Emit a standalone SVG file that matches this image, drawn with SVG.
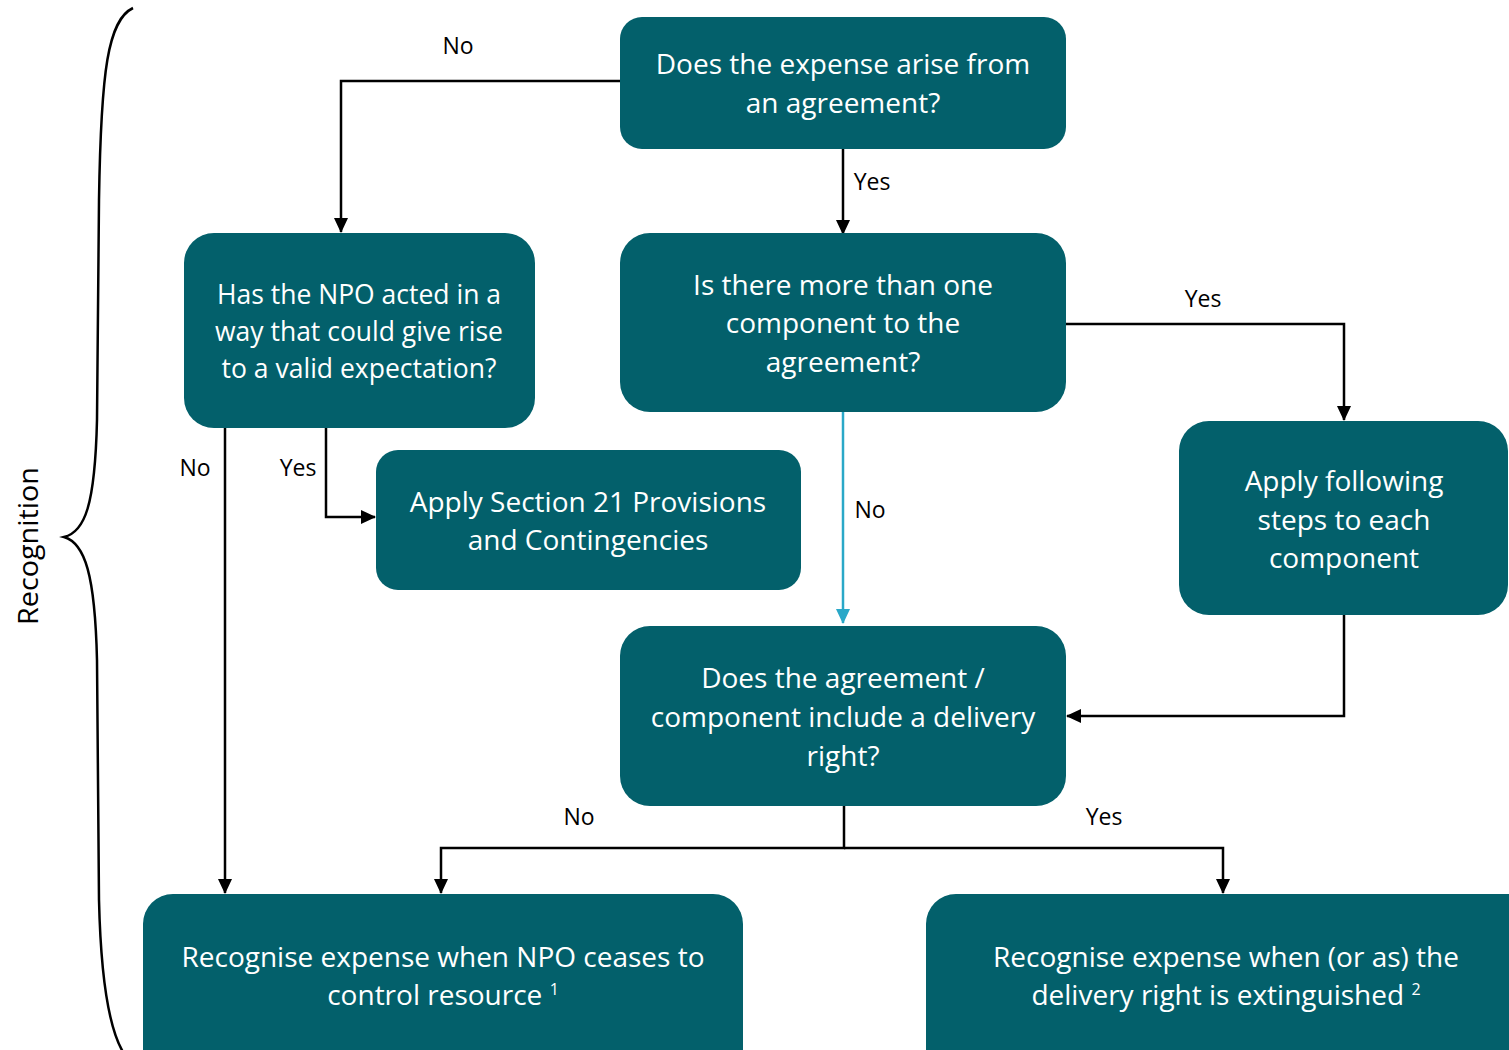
<svg xmlns="http://www.w3.org/2000/svg" width="1509" height="1050" viewBox="0 0 1509 1050">
<style>
.box{fill:#03606B;}
.t{font-family:"Open Sans","Liberation Sans",sans-serif;font-size:28px;fill:#ffffff;text-anchor:middle;}
.t2{font-family:"Open Sans","Liberation Sans",sans-serif;font-size:26.5px;fill:#ffffff;text-anchor:middle;}
.lbl{font-family:"Open Sans","Liberation Sans",sans-serif;font-size:23px;fill:#000000;text-anchor:middle;}
.c{fill:none;stroke:#000;stroke-width:2.5;}
</style>
<defs>
<marker id="ah" markerWidth="16" markerHeight="16" refX="14" refY="7" orient="auto" markerUnits="userSpaceOnUse" viewBox="0 0 16 14">
<path d="M0,0 L15,7 L0,14 Z" fill="#000"/>
</marker>
<marker id="ahc" markerWidth="16" markerHeight="16" refX="14" refY="7" orient="auto" markerUnits="userSpaceOnUse" viewBox="0 0 16 14">
<path d="M0,0 L15,7 L0,14 Z" fill="#2AA8C8"/>
</marker>
</defs>
<rect width="1509" height="1050" fill="#fff"/>
<g id="brace">
<path d="M133,8 C108,20 101,70 99,200 L97,420 C95,505 85,532 64,537 C85,543 95,575 97,660 L99,900 C101,985 110,1030 123,1052" fill="none" stroke="#000" stroke-width="2.5"/>
<text transform="translate(38,546) rotate(-90)" font-family="'Open Sans','Liberation Sans',sans-serif" font-size="27" text-anchor="middle" textLength="158" lengthAdjust="spacingAndGlyphs">Recognition</text>
</g>
<g id="connectors">
<polyline class="c" points="620,81 341,81 341,232" marker-end="url(#ah)"/>
<text class="lbl" x="458" y="54">No</text>
<polyline class="c" points="843,149 843,234" marker-end="url(#ah)"/>
<text class="lbl" x="872" y="190">Yes</text>
<polyline class="c" points="1066,324 1344,324 1344,420" marker-end="url(#ah)"/>
<text class="lbl" x="1203" y="307">Yes</text>
<polyline points="843,412 843,623" fill="none" stroke="#2AA8C8" stroke-width="2.5" marker-end="url(#ahc)"/>
<text class="lbl" x="870" y="518">No</text>
<polyline class="c" points="225,428 225,893" marker-end="url(#ah)"/>
<text class="lbl" x="195" y="476">No</text>
<polyline class="c" points="277,426 326,426 326,517 375,517" marker-end="url(#ah)"/>
<text class="lbl" x="298" y="476">Yes</text>
<polyline class="c" points="1344,615 1344,716 1067,716" marker-end="url(#ah)"/>
<polyline class="c" points="844,803 844,848 441,848 441,893" marker-end="url(#ah)"/>
<polyline class="c" points="844,848 1223,848 1223,893" marker-end="url(#ah)"/>
<text class="lbl" x="579" y="825">No</text>
<text class="lbl" x="1104" y="825">Yes</text>
</g>
<g id="n1">
<rect class="box" x="620" y="17" width="446" height="132" rx="22"/>
<text class="t" x="843" y="74">Does the expense arise from</text>
<text class="t" x="843" y="113">an agreement?</text>
</g>
<g id="n2">
<rect class="box" x="184" y="233" width="351" height="195" rx="30"/>
<text class="t2" x="359" y="304">Has the NPO acted in a</text>
<text class="t2" x="359" y="341">way that could give rise</text>
<text class="t2" x="359" y="378">to a valid expectation?</text>
</g>
<g id="n3">
<rect class="box" x="620" y="233" width="446" height="179" rx="30"/>
<text class="t" x="843" y="295">Is there more than one</text>
<text class="t" x="843" y="333">component to the</text>
<text class="t" x="843" y="372">agreement?</text>
</g>
<g id="n4">
<rect class="box" x="376" y="450" width="425" height="140" rx="22"/>
<text class="t" x="588" y="512">Apply Section 21 Provisions</text>
<text class="t" x="588" y="550">and Contingencies</text>
</g>
<g id="n5">
<rect class="box" x="1179" y="421" width="329" height="194" rx="30"/>
<text class="t" x="1344" y="491">Apply following</text>
<text class="t" x="1344" y="530">steps to each</text>
<text class="t" x="1344" y="568">component</text>
</g>
<g id="n6">
<rect class="box" x="620" y="626" width="446" height="180" rx="30"/>
<text class="t" x="843" y="688">Does the agreement /</text>
<text class="t" x="843" y="727">component include a delivery</text>
<text class="t" x="843" y="766">right?</text>
</g>
<g id="n7">
<rect class="box" x="143" y="894" width="600" height="190" rx="30"/>
<text class="t" x="443" y="967">Recognise expense when NPO ceases to</text>
<text class="t" x="443" y="1005">control resource <tspan font-size="16" dy="-10">1</tspan></text>
</g>
<g id="n8">
<rect class="box" x="926" y="894" width="620" height="190" rx="30"/>
<text class="t" x="1226" y="967">Recognise expense when (or as) the</text>
<text class="t" x="1226" y="1005">delivery right is extinguished <tspan font-size="16" dy="-10">2</tspan></text>
</g>
</svg>
